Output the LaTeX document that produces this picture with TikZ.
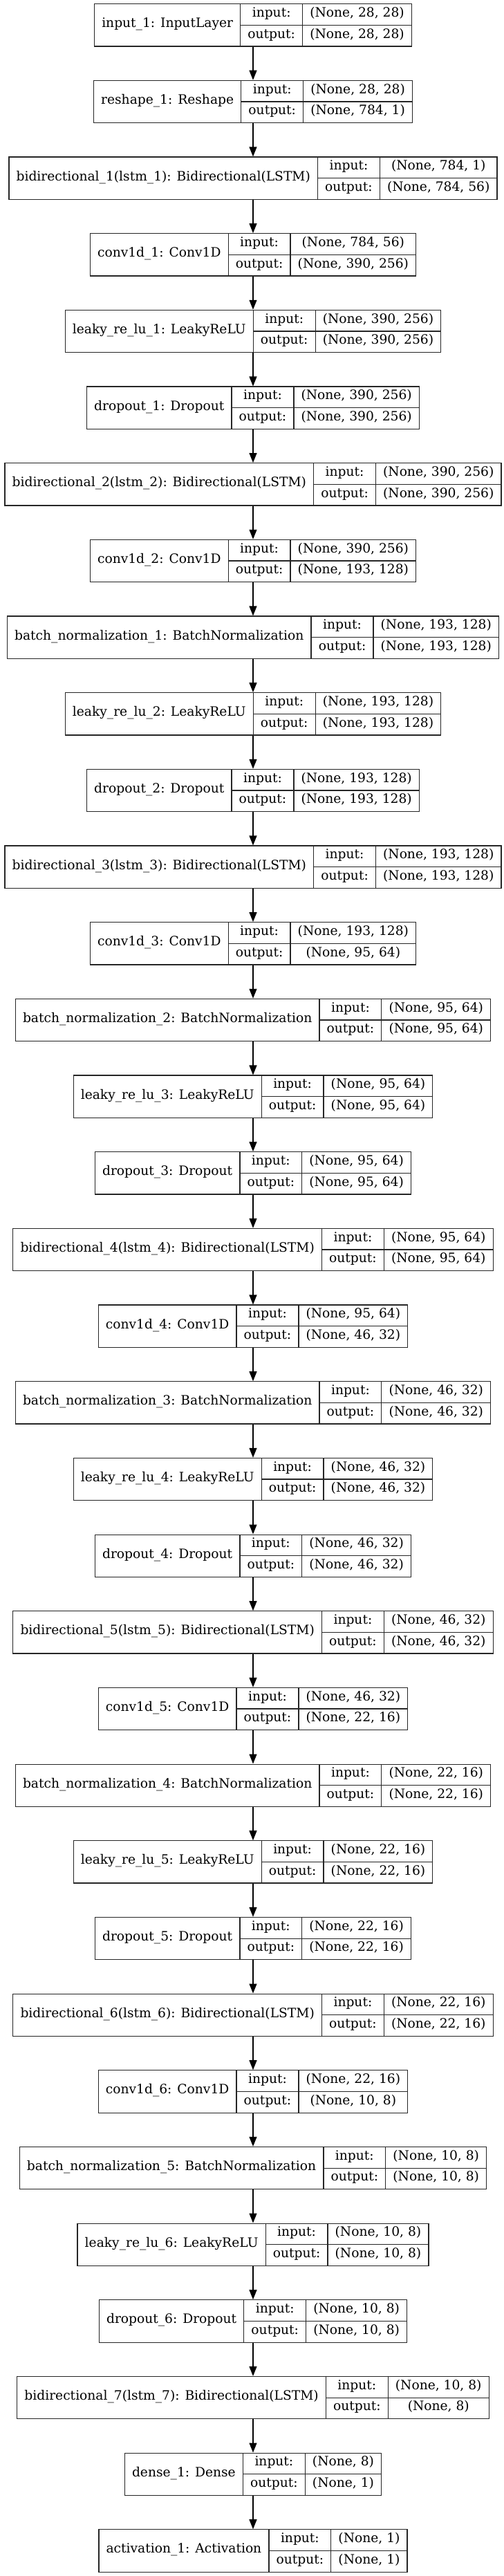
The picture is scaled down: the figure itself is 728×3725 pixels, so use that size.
\documentclass[tikz,border=0pt]{standalone}
\usepackage{fontspec}
\setmainfont{DejaVu Serif}
\usetikzlibrary{arrows.meta}
\makeatletter
\let\lyrStrip\strip@pt
\makeatother
\newcommand\lyrfont{\fontsize{18.67pt}{22pt}\selectfont}
\newlength\lyrwa \newlength\lyrwb \newlength\lyrwc \newlength\lyrwt
\newcommand\lyrpad{21.33pt}
\tikzset{
  boxline/.style={draw=black!85, line width=1.25pt},
  lbox/.style={boxline, inner sep=0pt, minimum height=61.3pt},
  txt/.style={font=\lyrfont, inner sep=0pt, text height=0.73em, text depth=0.04em, anchor=center},
  arr/.style={draw=black, line width=1.25pt, -{Triangle[length=14pt,width=11pt]}}
}
% measuring pass (outside the picture, where fonts are live)
\newcommand\measureLayer[5]{%
  \settowidth\lyrwa{\lyrfont #3}\addtolength\lyrwa{\lyrpad}%
  \settowidth\lyrwb{\lyrfont output:}\addtolength\lyrwb{\lyrpad}%
  \settowidth\lyrwc{\lyrfont #4}\settowidth\lyrwt{\lyrfont #5}%
  \ifdim\lyrwt>\lyrwc \lyrwc=\lyrwt\fi
  \addtolength\lyrwc{\lyrpad}%
  \expandafter\xdef\csname lyrA@#1\endcsname{\lyrStrip\lyrwa}%
  \expandafter\xdef\csname lyrB@#1\endcsname{\lyrStrip\lyrwb}%
  \expandafter\xdef\csname lyrC@#1\endcsname{\lyrStrip\lyrwc}%
}
% drawing pass
\newcommand\kerasLayer[5]{%
  \pgfmathsetmacro\lyA{\csname lyrA@#1\endcsname}%
  \pgfmathsetmacro\lyB{\csname lyrB@#1\endcsname}%
  \pgfmathsetmacro\lyC{\csname lyrC@#1\endcsname}%
  \pgfmathsetmacro\lyW{\lyA+\lyB+\lyC}%
  \pgfmathsetmacro\lyL{366-\lyW/2}%
  \pgfmathsetmacro\lyXa{\lyL+\lyA}%
  \pgfmathsetmacro\lyXb{\lyXa+\lyB}%
  \pgfmathsetmacro\lyR{\lyXb+\lyC}%
  \pgfmathsetmacro\lyT{-(5.7+110.67*#2)}%
  \pgfmathsetmacro\lyBt{\lyT-61.3}%
  \pgfmathsetmacro\lyM{\lyT-30.65}%
  \node[lbox, minimum width=\lyW pt] (#1) at (366,\lyM) {};
  \draw[boxline] (\lyXa,\lyT) -- (\lyXa,\lyBt);
  \draw[boxline] (\lyXb,\lyT) -- (\lyXb,\lyBt);
  \draw[boxline] (\lyXa,\lyM) -- (\lyR,\lyM);
  \node[txt] (#1-name) at ({(\lyL+\lyXa)/2},\lyM) {#3};
  \node[txt] (#1-il) at ({(\lyXa+\lyXb)/2},\lyM+15.3) {input:};
  \node[txt] (#1-ol) at ({(\lyXa+\lyXb)/2},\lyM-15.3) {output:};
  \node[txt] (#1-iv) at ({(\lyXb+\lyR)/2},\lyM+15.3) {#4};
  \node[txt] (#1-ov) at ({(\lyXb+\lyR)/2},\lyM-15.3) {#5};
}
\newcommand\layerList{%
\lyrItem{n1}{0}{input\_1: InputLayer}{(None, 28, 28)}{(None, 28, 28)}%
\lyrItem{n2}{1}{reshape\_1: Reshape}{(None, 28, 28)}{(None, 784, 1)}%
\lyrItem{n3}{2}{bidirectional\_1(lstm\_1): Bidirectional(LSTM)}{(None, 784, 1)}{(None, 784, 56)}%
\lyrItem{n4}{3}{conv1d\_1: Conv1D}{(None, 784, 56)}{(None, 390, 256)}%
\lyrItem{n5}{4}{leaky\_re\_lu\_1: LeakyReLU}{(None, 390, 256)}{(None, 390, 256)}%
\lyrItem{n6}{5}{dropout\_1: Dropout}{(None, 390, 256)}{(None, 390, 256)}%
\lyrItem{n7}{6}{bidirectional\_2(lstm\_2): Bidirectional(LSTM)}{(None, 390, 256)}{(None, 390, 256)}%
\lyrItem{n8}{7}{conv1d\_2: Conv1D}{(None, 390, 256)}{(None, 193, 128)}%
\lyrItem{n9}{8}{batch\_normalization\_1: BatchNormalization}{(None, 193, 128)}{(None, 193, 128)}%
\lyrItem{n10}{9}{leaky\_re\_lu\_2: LeakyReLU}{(None, 193, 128)}{(None, 193, 128)}%
\lyrItem{n11}{10}{dropout\_2: Dropout}{(None, 193, 128)}{(None, 193, 128)}%
\lyrItem{n12}{11}{bidirectional\_3(lstm\_3): Bidirectional(LSTM)}{(None, 193, 128)}{(None, 193, 128)}%
\lyrItem{n13}{12}{conv1d\_3: Conv1D}{(None, 193, 128)}{(None, 95, 64)}%
\lyrItem{n14}{13}{batch\_normalization\_2: BatchNormalization}{(None, 95, 64)}{(None, 95, 64)}%
\lyrItem{n15}{14}{leaky\_re\_lu\_3: LeakyReLU}{(None, 95, 64)}{(None, 95, 64)}%
\lyrItem{n16}{15}{dropout\_3: Dropout}{(None, 95, 64)}{(None, 95, 64)}%
\lyrItem{n17}{16}{bidirectional\_4(lstm\_4): Bidirectional(LSTM)}{(None, 95, 64)}{(None, 95, 64)}%
\lyrItem{n18}{17}{conv1d\_4: Conv1D}{(None, 95, 64)}{(None, 46, 32)}%
\lyrItem{n19}{18}{batch\_normalization\_3: BatchNormalization}{(None, 46, 32)}{(None, 46, 32)}%
\lyrItem{n20}{19}{leaky\_re\_lu\_4: LeakyReLU}{(None, 46, 32)}{(None, 46, 32)}%
\lyrItem{n21}{20}{dropout\_4: Dropout}{(None, 46, 32)}{(None, 46, 32)}%
\lyrItem{n22}{21}{bidirectional\_5(lstm\_5): Bidirectional(LSTM)}{(None, 46, 32)}{(None, 46, 32)}%
\lyrItem{n23}{22}{conv1d\_5: Conv1D}{(None, 46, 32)}{(None, 22, 16)}%
\lyrItem{n24}{23}{batch\_normalization\_4: BatchNormalization}{(None, 22, 16)}{(None, 22, 16)}%
\lyrItem{n25}{24}{leaky\_re\_lu\_5: LeakyReLU}{(None, 22, 16)}{(None, 22, 16)}%
\lyrItem{n26}{25}{dropout\_5: Dropout}{(None, 22, 16)}{(None, 22, 16)}%
\lyrItem{n27}{26}{bidirectional\_6(lstm\_6): Bidirectional(LSTM)}{(None, 22, 16)}{(None, 22, 16)}%
\lyrItem{n28}{27}{conv1d\_6: Conv1D}{(None, 22, 16)}{(None, 10, 8)}%
\lyrItem{n29}{28}{batch\_normalization\_5: BatchNormalization}{(None, 10, 8)}{(None, 10, 8)}%
\lyrItem{n30}{29}{leaky\_re\_lu\_6: LeakyReLU}{(None, 10, 8)}{(None, 10, 8)}%
\lyrItem{n31}{30}{dropout\_6: Dropout}{(None, 10, 8)}{(None, 10, 8)}%
\lyrItem{n32}{31}{bidirectional\_7(lstm\_7): Bidirectional(LSTM)}{(None, 10, 8)}{(None, 8)}%
\lyrItem{n33}{32}{dense\_1: Dense}{(None, 8)}{(None, 1)}%
\lyrItem{n34}{33}{activation\_1: Activation}{(None, 1)}{(None, 1)}%
}
\begin{document}
\let\lyrItem\measureLayer
\layerList
\begin{tikzpicture}[x=1pt,y=1pt]
\useasboundingbox[fill=white] (0,0) rectangle (728,-3725);
\let\lyrItem\kerasLayer
\layerList
\foreach \i [evaluate=\i as \j using int(\i+1)] in {1,...,33}
  \draw[arr] (n\i) -- (n\j);
\end{tikzpicture}
\end{document}
